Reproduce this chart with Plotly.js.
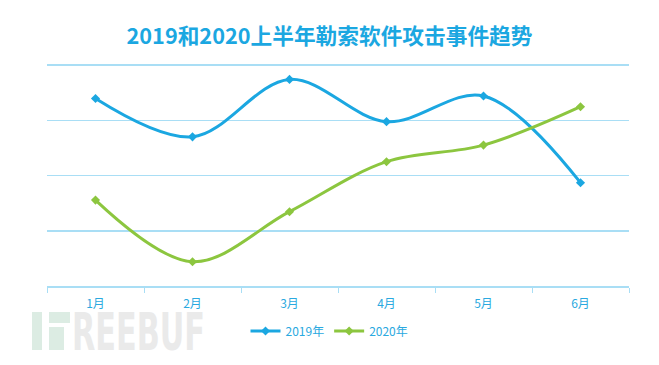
<!DOCTYPE html>
<html>
<head>
<meta charset="utf-8">
<script src="https://cdn.plot.ly/plotly-3.0.1.min.js"></script>
<style>html,body{margin:0;padding:0;background:#fff}#chart{width:659px;height:365px}</style>
</head>
<body>
<div id="chart"></div>
<script>
const months = ["1月", "2月", "3月", "4月", "5月", "6月"];
const series2019 = [67.9, 54.0, 74.8, 59.5, 68.8, 37.4];
const series2020 = [31.1, 8.8, 26.9, 45.0, 51.0, 64.9];
const seriesNames = ["2019年", "2020年"];
const titleText = "2019和2020上半年勒索软件攻击事件趋势";

const blue = "#1ba7e1";
const green = "#8cc63f";
const textBlue = "#2aa9e0";
const gridBlue = "#a9def5";
const font = "'Noto Sans CJK SC', 'Noto Sans', sans-serif";

const wm = '<svg xmlns="http://www.w3.org/2000/svg" width="180" height="40" viewBox="0 0 180 40">' +
  '<rect x="0" y="0" width="10" height="38" fill="#dcece3"/>' +
  '<rect x="17" y="0" width="21" height="11" fill="#dcece3"/>' +
  '<rect x="17" y="15" width="15" height="23" fill="#dcece3"/>' +
  '<text x="40" y="38" textLength="133" lengthAdjust="spacingAndGlyphs" font-family="DejaVu Sans" font-weight="bold" font-size="52" fill="#eaeaea">REEBUF</text>' +
  '</svg>';

const traces = [
  {x: months, y: series2019, name: seriesNames[0], type: "scatter", mode: "lines+markers",
   line: {color: blue, width: 3, shape: "spline", smoothing: 1},
   marker: {symbol: "diamond", size: 7, color: blue}},
  {x: months, y: series2020, name: seriesNames[1], type: "scatter", mode: "lines+markers",
   line: {color: green, width: 3, shape: "spline", smoothing: 1},
   marker: {symbol: "diamond", size: 7, color: green}}
];

const layout = {
  width: 659, height: 365,
  margin: {l: 47, r: 30, t: 62, b: 79},
  paper_bgcolor: "#fff", plot_bgcolor: "#fff",
  font: {family: font, color: textBlue, size: 12},
  title: {text: "<b>" + titleText + "</b>", font: {family: font, size: 21.7, color: blue},
          x: 0.5, xref: "container", xanchor: "center", y: 0.90, yref: "container", yanchor: "middle"},
  xaxis: {type: "category", range: [-0.5, 5.5], showgrid: false, showline: true, linecolor: gridBlue, linewidth: 1.5,
          ticks: "outside", tickson: "boundaries", ticklen: 5, tickcolor: gridBlue, tickwidth: 1,
          ticklabelstandoff: 6,
          tickfont: {family: font, size: 12, color: textBlue}, zeroline: false, fixedrange: true},
  yaxis: {range: [0, 81.09], showgrid: true, gridcolor: gridBlue, gridwidth: 1.5, dtick: 20, tick0: 0,
          showticklabels: false, zeroline: false, showline: false, ticks: ""},
  showlegend: true,
  legend: {orientation: "h", x: 0.5, xref: "container", xanchor: "center", y: 0.093, yref: "container", yanchor: "middle",
           font: {family: font, size: 12, color: textBlue}, itemwidth: 30},
  images: [{source: "data:image/svg+xml;charset=utf-8," + encodeURIComponent(wm), xref: "paper", yref: "paper",
            x: -15/582, y: -26/224, sizex: 180/582, sizey: 40/224, xanchor: "left", yanchor: "top",
            sizing: "stretch", layer: "below"}]
};

Plotly.newPlot("chart", traces, layout, {displayModeBar: false, staticPlot: true});
</script>
</body>
</html>
